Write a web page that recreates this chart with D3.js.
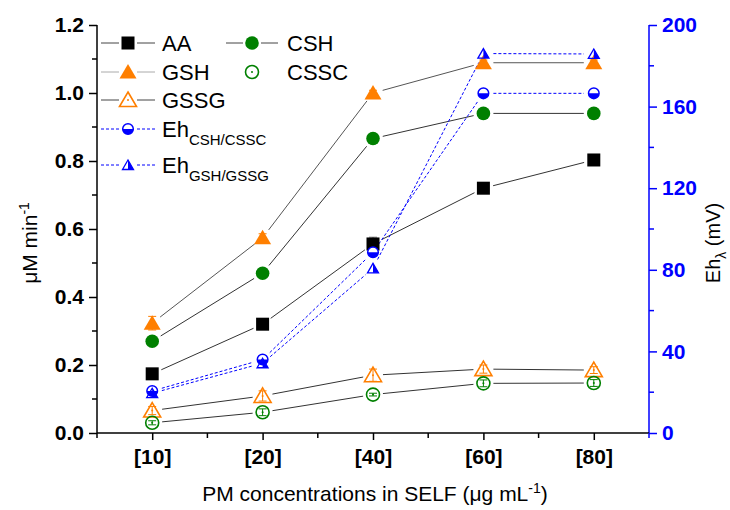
<!DOCTYPE html>
<html lang="en">
<head>
<meta charset="UTF-8">
<title>Thiol oxidation vs PM concentration</title>
<script src="https://d3js.org/d3.v7.min.js"></script>
<style>
  body { margin: 0; background: #fff; }
  text { font-family: "Liberation Sans", Arial, sans-serif; }
</style>
</head>
<body>
<svg id="main" width="730" height="510"></svg>
<script>
// data
const cats = ['[10]', '[20]', '[40]', '[60]', '[80]'];
const aa = [0.174, 0.32, 0.556, 0.72, 0.803];
const csh = [0.27, 0.47, 0.866, 0.94, 0.94];
const gsh = [0.323, 0.574, 1.0, 1.089, 1.089];
const cssc = [0.03, 0.061, 0.113, 0.146, 0.147];
const gssg = [0.066, 0.109, 0.17, 0.188, 0.185];
const ehCsh = [20.6, 36, 88.6, 166.5, 166.5];
const ehGsh = [19.5, 34.2, 80.7, 186, 185.8];
// small error bars
const aaErr = [0.005, 0.008, 0.02, 0.006, 0.006];
const gshErr = [0.02, 0.012, 0.008, 0.008, 0.008];
const gssgErr = [0.012, 0.015, 0.018, 0.012, 0.01];
const csscErr = [0.006, 0.01, 0.004, 0.01, 0.01];
const leftTicks = [0, 0.2, 0.4, 0.6, 0.8, 1.0, 1.2];
const rightTicks = [0, 40, 80, 120, 160, 200];

const svg = d3.select('svg#main');
const x0 = 97, x1 = 649, yTop = 25, yBot = 433;

const x = d3.scalePoint().domain(cats).range([x0, x1]).padding(0.5);
const y = d3.scaleLinear().domain([0, 1.2]).range([yBot, yTop]);
const y2 = d3.scaleLinear().domain([0, 200]).range([yBot, yTop]);

const blue = '#0000ff', green = '#008000', orange = '#ff7f00';

// axes, with Origin-like minor ticks added by hand
let leftAxis = d3.axisLeft(y).tickValues(leftTicks).tickFormat(d3.format('.1f')).tickSize(8).tickPadding(5);
let gL = svg.append('g').attr('transform', `translate(${x0},0)`).call(leftAxis);
gL.selectAll('.tick text').attr('font-size', 21).attr('font-weight', 'bold').attr('fill', '#000');
gL.select('.domain').attr('stroke-width', 1.5).attr('d', `M0,${yBot}V${yTop}`);
gL.selectAll('.tick line').attr('stroke-width', 1.5);
gL.selectAll('.minor').data(d3.range(0.1, 1.2, 0.2)).enter().append('line')
    .attr('x1', -5).attr('x2', 0).attr('y1', d => y(d)).attr('y2', d => y(d))
    .attr('stroke', '#000').attr('stroke-width', 1.5);

let rightAxis = d3.axisRight(y2).tickValues(rightTicks).tickSize(8).tickPadding(5);
let gR = svg.append('g').attr('transform', `translate(${x1},0)`).call(rightAxis);
gR.selectAll('.tick text').attr('font-size', 21).attr('font-weight', 'bold').attr('fill', blue);
gR.select('.domain').attr('stroke', blue).attr('stroke-width', 1.5).attr('d', `M0,${yBot}V${yTop}`);
gR.selectAll('.tick line').attr('stroke', blue).attr('stroke-width', 1.5);
gR.selectAll('.minor').data(d3.range(20, 200, 40)).enter().append('line')
    .attr('x1', 0).attr('x2', 5).attr('y1', d => y2(d)).attr('y2', d => y2(d))
    .attr('stroke', blue).attr('stroke-width', 1.5);

let bottomAxis = d3.axisBottom(x).tickSize(7).tickPadding(9);
let gB = svg.append('g').attr('transform', `translate(0,${yBot})`).call(bottomAxis);
gB.selectAll('.tick text').attr('font-size', 21).attr('font-weight', 'bold').attr('fill', '#000');
gB.select('.domain').attr('stroke-width', 1.5).attr('d', `M${x0},0H${x1}`);
gB.selectAll('.tick line').attr('stroke-width', 1.5);
let step = x.step();
gB.selectAll('.minor').data(d3.range(0, 6)).enter().append('line')
    .attr('x1', d => x0 + d * step).attr('x2', d => x0 + d * step)
    .attr('y1', 0).attr('y2', 5).attr('stroke', d => d === 5 ? blue : '#000').attr('stroke-width', 1.5);

// axis titles
svg.append('text').attr('x', 375).attr('y', 501).attr('text-anchor', 'middle').attr('font-size', 21)
    .html('PM concentrations in SELF (μg mL<tspan dy="-8" font-size="14">-1</tspan><tspan dy="8">)</tspan>');
svg.append('text').attr('transform', 'translate(37,243) rotate(-90)').attr('text-anchor', 'middle').attr('font-size', 21)
    .html('μM min<tspan dy="-8" font-size="14">-1</tspan>');
svg.append('text').attr('transform', 'translate(720,243) rotate(-90)').attr('text-anchor', 'middle').attr('font-size', 20)
    .html('Eh<tspan dy="6" font-size="14">λ</tspan><tspan dy="-6"> (mV)</tspan>');

// markers
function marker(g, type, cx, cy) {
    if (type === 'square') {
        g.append('rect').attr('x', cx - 6.5).attr('y', cy - 6.5).attr('width', 13).attr('height', 13).attr('fill', '#000');
    } else if (type === 'circle') {
        g.append('circle').attr('cx', cx).attr('cy', cy).attr('r', 6.8).attr('fill', green);
    } else if (type === 'tri') {
        g.append('path').attr('d', `M${cx},${cy - 8}L${cx + 8.5},${cy + 6.5}L${cx - 8.5},${cy + 6.5}Z`).attr('fill', orange);
    } else if (type === 'hcircle') {
        g.append('circle').attr('cx', cx).attr('cy', cy).attr('r', 6.5).attr('fill', 'none').attr('stroke', green).attr('stroke-width', 1.6);
        g.append('circle').attr('cx', cx).attr('cy', cy).attr('r', 1).attr('fill', green);
    } else if (type === 'htri') {
        g.append('path').attr('d', `M${cx},${cy - 8}L${cx + 8.5},${cy + 6.5}L${cx - 8.5},${cy + 6.5}Z`)
            .attr('fill', 'none').attr('stroke', orange).attr('stroke-width', 1.6);
        g.append('circle').attr('cx', cx).attr('cy', cy).attr('r', 1).attr('fill', orange);
    } else if (type === 'halfcircle') {
        g.append('circle').attr('cx', cx).attr('cy', cy).attr('r', 5.3).attr('fill', '#fff').attr('stroke', blue).attr('stroke-width', 1.5);
        g.append('path').attr('d', `M${cx - 5.3},${cy}A5.3,5.3 0 0 0 ${cx + 5.3},${cy}Z`).attr('fill', blue);
    } else if (type === 'halftri') {
        g.append('path').attr('d', `M${cx},${cy - 5}L${cx + 5.5},${cy + 4.5}L${cx},${cy + 4.5}Z`).attr('fill', blue);
        g.append('path').attr('d', `M${cx},${cy - 5}L${cx + 5.5},${cy + 4.5}L${cx - 5.5},${cy + 4.5}Z`)
            .attr('fill', 'none').attr('stroke', blue).attr('stroke-width', 1.3);
    }
}

// connecting lines, stopped short of the symbols
function gapLine(g, pts, gap, color, dash, width) {
    for (let i = 0; i < pts.length - 1; i++) {
        let [ax, ay] = pts[i], [bx, by] = pts[i + 1];
        let len = Math.hypot(bx - ax, by - ay);
        if (len <= 2 * gap) continue;
        let ux = (bx - ax) / len, uy = (by - ay) / len;
        g.append('line')
            .attr('x1', ax + ux * gap).attr('y1', ay + uy * gap)
            .attr('x2', bx - ux * gap).attr('y2', by - uy * gap)
            .attr('stroke', color).attr('stroke-width', width)
            .attr('stroke-dasharray', dash);
    }
}

let series = [
    {vals: gssg, err: gssgErr, sc: y, type: 'htri', color: orange, line: '#333', dash: null},
    {vals: cssc, err: csscErr, sc: y, type: 'hcircle', color: green, line: '#333', dash: null},
    {vals: aa, err: aaErr, sc: y, type: 'square', color: '#000', line: '#333', dash: null},
    {vals: csh, err: null, sc: y, type: 'circle', color: green, line: '#333', dash: null},
    {vals: gsh, err: gshErr, sc: y, type: 'tri', color: orange, line: '#555', dash: null},
    {vals: ehCsh, err: null, sc: y2, type: 'halfcircle', color: blue, line: blue, dash: '3,2'},
    {vals: ehGsh, err: null, sc: y2, type: 'halftri', color: blue, line: blue, dash: '3,2'}
];

let plot = svg.append('g');
series.forEach(s => {
    let pts = s.vals.map((v, i) => [x(cats[i]), s.sc(v)]);
    gapLine(plot, pts, 10, s.line, s.dash, 1);
});
series.forEach(s => {
    let g = plot.append('g');
    if (s.err) {
        s.vals.forEach((v, i) => {
            let cx = x(cats[i]);
            let lo = s.sc(v - s.err[i]), hi = s.sc(v + s.err[i]);
            g.append('line').attr('x1', cx).attr('x2', cx).attr('y1', lo).attr('y2', hi).attr('stroke', s.color).attr('stroke-width', 1);
            [lo, hi].forEach(yy => g.append('line').attr('x1', cx - 4).attr('x2', cx + 4).attr('y1', yy).attr('y2', yy)
                .attr('stroke', s.color === '#000' ? '#888' : s.color).attr('stroke-width', 1));
        });
    }
    s.vals.forEach((v, i) => marker(g, s.type, x(cats[i]), s.sc(v)));
});

// legend
let legend = svg.append('g');
let legendItems = [
    {col: 0, cy: 43, type: 'square', line: '#444', dash: null, label: 'AA'},
    {col: 0, cy: 72, type: 'tri', line: '#aaa', dash: null, label: 'GSH'},
    {col: 0, cy: 100, type: 'htri', line: '#444', dash: null, label: 'GSSG'},
    {col: 0, cy: 129, type: 'halfcircle', line: blue, dash: '3,2', label: 'Eh', sub: 'CSH/CSSC'},
    {col: 0, cy: 165, type: 'halftri', line: blue, dash: '3,2', label: 'Eh', sub: 'GSH/GSSG'},
    {col: 1, cy: 43, type: 'circle', line: '#444', dash: null, label: 'CSH'},
    {col: 1, cy: 72, type: 'hcircle', line: null, dash: null, label: 'CSSC'}
];
let colX = [[101, 155, 162], [226, 278, 287]];
legendItems.forEach(it => {
    let [lx1, lx2, tx] = colX[it.col];
    let mx = (lx1 + lx2) / 2;
    if (it.line) {
        legend.append('line').attr('x1', lx1).attr('x2', mx - 9).attr('y1', it.cy).attr('y2', it.cy)
            .attr('stroke', it.line).attr('stroke-dasharray', it.dash);
        legend.append('line').attr('x1', mx + 9).attr('x2', lx2).attr('y1', it.cy).attr('y2', it.cy)
            .attr('stroke', it.line).attr('stroke-dasharray', it.dash);
    }
    marker(legend, it.type, mx, it.cy);
    let t = legend.append('text').attr('x', tx).attr('y', it.cy + 8).attr('font-size', 22).text(it.label);
    if (it.sub) t.append('tspan').attr('dy', 8).attr('font-size', 15).text(it.sub);
});
</script>
</body>
</html>
